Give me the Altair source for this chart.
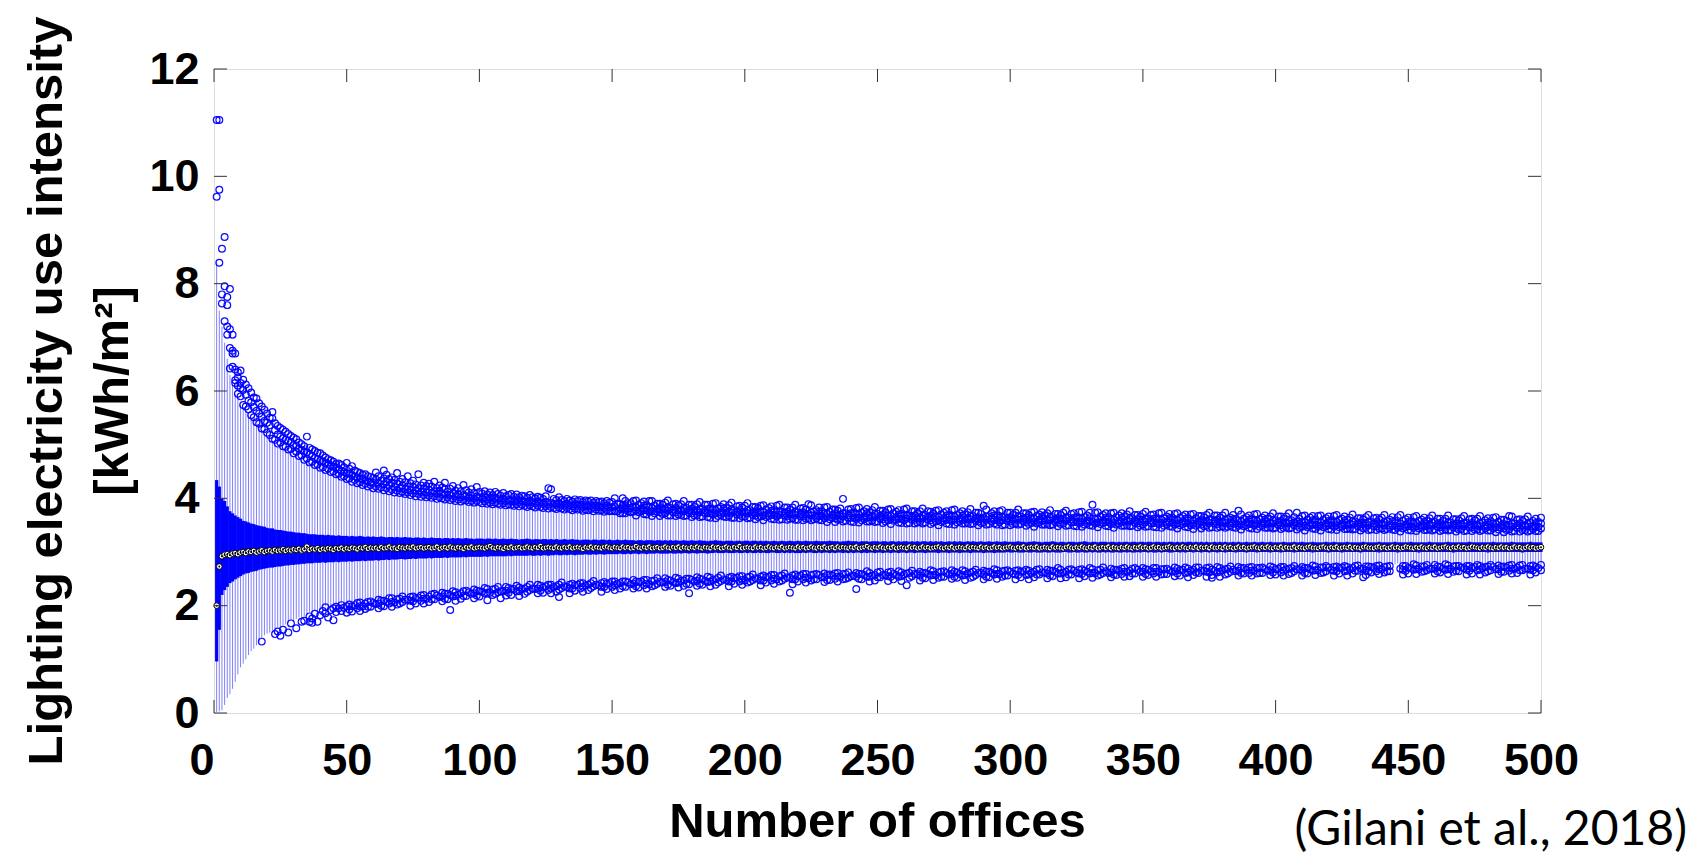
import altair as alt
import pandas as pd

# Box index (number of offices in the sample)
OFFICES = list(range(1, 501))

MEDIAN = [
    2.00,2.73,2.92,2.95,2.96,2.94,2.97,2.98,2.96,2.99,
    3.00,2.98,3.01,3.00,3.02,2.99,3.01,3.03,3.00,3.02,
    3.03,3.01,3.04,3.02,3.03,3.05,3.02,3.04,3.03,3.05,
    3.04,3.06,3.03,3.05,3.10,3.04,3.06,3.05,3.07,3.04,
    3.06,3.05,3.07,3.06,3.04,3.07,3.06,3.08,3.05,3.07,
    3.06,3.08,3.07,3.05,3.08,3.07,3.09,3.06,3.08,3.07,
    3.08,3.06,3.09,3.07,3.08,3.10,3.07,3.08,3.06,3.09,
    3.08,3.07,3.09,3.08,3.10,3.07,3.08,3.09,3.07,3.08,
    3.09,3.07,3.08,3.10,3.06,3.08,3.09,3.07,3.10,3.08,
    3.07,3.09,3.08,3.06,3.09,3.08,3.10,3.07,3.08,3.09,
    3.08,3.07,3.09,3.11,3.08,3.07,3.09,3.08,3.06,3.09,
    3.08,3.10,3.07,3.08,3.09,3.07,3.08,3.10,3.08,3.07,
    3.09,3.08,3.11,3.07,3.08,3.09,3.08,3.07,3.10,3.08,
    3.07,3.09,3.08,3.10,3.07,3.08,3.09,3.08,3.06,3.09,
    3.08,3.10,3.07,3.09,3.08,3.07,3.09,3.10,3.08,3.07,
    3.09,3.08,3.07,3.10,3.08,3.09,3.07,3.08,3.11,3.08,
    3.07,3.09,3.08,3.10,3.07,3.08,3.09,3.07,3.08,3.10,
    3.08,3.07,3.09,3.08,3.10,3.07,3.09,3.08,3.07,3.09,
    3.08,3.10,3.08,3.07,3.09,3.08,3.07,3.10,3.08,3.09,
    3.07,3.08,3.10,3.08,3.07,3.09,3.08,3.11,3.07,3.08,
    3.09,3.08,3.07,3.10,3.08,3.09,3.07,3.08,3.10,3.08,
    3.07,3.09,3.08,3.10,3.07,3.08,3.09,3.08,3.07,3.10,
    3.08,3.09,3.07,3.08,3.10,3.08,3.07,3.09,3.08,3.10,
    3.07,3.08,3.09,3.07,3.10,3.08,3.09,3.08,3.07,3.09,
    3.08,3.10,3.07,3.08,3.09,3.11,3.08,3.07,3.09,3.08,
    3.10,3.08,3.07,3.09,3.08,3.10,3.07,3.08,3.09,3.08,
    3.07,3.10,3.08,3.09,3.07,3.08,3.10,3.08,3.09,3.07,
    3.08,3.09,3.10,3.08,3.07,3.09,3.08,3.10,3.07,3.08,
    3.09,3.08,3.07,3.10,3.08,3.09,3.08,3.07,3.10,3.08,
    3.09,3.07,3.08,3.10,3.08,3.09,3.07,3.08,3.09,3.10,
    3.08,3.07,3.09,3.08,3.10,3.07,3.08,3.09,3.08,3.10,
    3.07,3.08,3.09,3.08,3.07,3.10,3.08,3.09,3.08,3.07,
    3.09,3.10,3.08,3.07,3.09,3.08,3.10,3.08,3.07,3.09,
    3.08,3.10,3.07,3.08,3.09,3.08,3.10,3.07,3.09,3.08,
    3.07,3.09,3.08,3.10,3.08,3.07,3.09,3.08,3.10,3.08,
    3.09,3.07,3.08,3.10,3.08,3.09,3.07,3.08,3.09,3.10,
    3.08,3.07,3.09,3.08,3.10,3.08,3.07,3.09,3.08,3.10,
    3.07,3.09,3.08,3.09,3.07,3.10,3.08,3.08,3.09,3.07,
    3.10,3.08,3.09,3.07,3.08,3.10,3.08,3.09,3.07,3.08,
    3.09,3.10,3.08,3.07,3.09,3.08,3.10,3.08,3.07,3.09,
    3.08,3.10,3.07,3.09,3.08,3.08,3.10,3.07,3.09,3.08,
    3.07,3.09,3.10,3.08,3.08,3.07,3.09,3.10,3.08,3.07,
    3.09,3.08,3.10,3.07,3.08,3.09,3.08,3.10,3.07,3.09,
    3.08,3.07,3.09,3.10,3.08,3.08,3.07,3.09,3.10,3.08,
    3.09,3.07,3.08,3.10,3.08,3.09,3.07,3.08,3.10,3.09,
    3.08,3.07,3.09,3.08,3.10,3.08,3.07,3.09,3.08,3.10,
    3.07,3.08,3.09,3.10,3.08,3.07,3.09,3.08,3.10,3.08,
    3.09,3.07,3.08,3.10,3.09,3.08,3.07,3.09,3.08,3.10,
    3.08,3.07,3.09,3.08,3.10,3.08,3.09,3.07,3.08,3.10,
    3.08,3.09,3.07,3.08,3.10,3.08,3.09,3.07,3.08,3.09,
]

Q1 = [
    0.96,1.55,2.20,2.29,2.35,2.42,2.45,2.49,2.52,2.55,
    2.58,2.60,2.61,2.63,2.64,2.65,2.67,2.68,2.69,2.70,
    2.71,2.71,2.72,2.73,2.73,2.74,2.75,2.75,2.76,2.76,
    2.77,2.77,2.78,2.78,2.79,2.79,2.79,2.80,2.80,2.80,
    2.81,2.80,2.81,2.81,2.81,2.82,2.81,2.82,2.82,2.82,
    2.83,2.82,2.83,2.83,2.83,2.84,2.83,2.84,2.84,2.84,
    2.85,2.84,2.85,2.85,2.86,2.85,2.86,2.86,2.86,2.87,
    2.87,2.86,2.87,2.87,2.88,2.87,2.88,2.88,2.88,2.88,
    2.89,2.88,2.89,2.89,2.89,2.89,2.90,2.89,2.90,2.90,
    2.90,2.90,2.90,2.91,2.90,2.91,2.91,2.91,2.91,2.91,
    2.91,2.92,2.91,2.92,2.92,2.92,2.92,2.92,2.92,2.92,
    2.93,2.92,2.93,2.93,2.93,2.93,2.93,2.93,2.94,2.93,
    2.93,2.94,2.93,2.94,2.94,2.93,2.94,2.94,2.95,2.94,
    2.94,2.95,2.94,2.95,2.95,2.94,2.95,2.95,2.95,2.96,
    2.95,2.95,2.96,2.95,2.96,2.96,2.95,2.96,2.96,2.96,
    2.96,2.96,2.97,2.96,2.96,2.97,2.96,2.97,2.97,2.96,
    2.97,2.97,2.96,2.97,2.97,2.97,2.98,2.97,2.97,2.97,
    2.97,2.98,2.97,2.97,2.98,2.97,2.98,2.98,2.97,2.98,
    2.98,2.97,2.98,2.98,2.98,2.97,2.98,2.98,2.99,2.98,
    2.98,2.98,2.99,2.98,2.98,2.98,2.99,2.98,2.98,2.99,
    2.98,2.99,2.98,2.98,2.99,2.98,2.99,2.98,2.98,2.99,
    2.99,2.98,2.98,2.99,2.98,2.99,2.98,2.99,2.98,2.98,
    2.98,2.99,2.98,2.99,2.99,2.98,2.98,2.99,2.98,2.99,
    2.99,2.98,2.99,2.98,2.99,2.99,2.98,2.99,2.98,2.99,
    2.98,2.99,2.99,2.98,2.99,2.98,2.99,2.99,2.98,2.99,
    2.99,2.98,2.99,2.99,2.98,2.99,2.99,2.98,2.99,2.99,
    2.98,2.99,2.99,2.98,2.99,2.99,2.99,2.98,2.99,2.99,
    2.99,2.99,2.98,2.99,2.99,2.99,2.98,2.99,2.99,2.99,
    2.98,2.99,2.99,2.99,2.98,2.99,2.99,2.99,2.99,2.98,
    2.99,2.99,2.99,2.98,2.99,2.99,2.99,2.99,3.00,2.99,
    2.99,3.00,2.99,2.99,2.99,3.00,2.99,2.99,3.00,2.99,
    2.99,2.99,3.00,2.99,2.99,3.00,2.99,2.99,2.99,3.00,
    3.00,2.99,2.99,3.00,2.99,2.99,3.00,2.99,2.99,3.00,
    2.99,3.00,2.99,2.99,3.00,2.99,3.00,2.99,2.99,3.00,
    2.99,2.99,3.00,2.99,3.00,2.99,2.99,3.00,2.99,3.00,
    3.00,2.99,3.00,2.99,2.99,3.00,2.99,3.00,3.00,2.99,
    2.99,3.00,3.00,2.99,3.00,2.99,3.00,3.00,2.99,3.00,
    3.00,2.99,3.00,3.00,2.99,3.00,3.00,2.99,3.00,3.00,
    2.99,3.00,3.00,3.00,2.99,3.00,3.00,3.00,2.99,3.00,
    3.00,3.00,2.99,3.00,3.00,3.00,3.00,2.99,3.00,3.00,
    3.00,2.99,3.00,3.00,3.00,3.00,2.99,3.00,3.00,3.00,
    3.00,3.00,3.00,2.99,3.00,3.00,3.00,3.00,3.00,2.99,
    3.00,3.00,3.00,3.00,2.99,3.00,3.00,3.00,3.00,3.00,
    3.00,2.99,3.00,3.00,3.00,3.00,3.00,3.00,2.99,3.00,
    3.00,3.00,3.00,3.00,3.00,2.99,3.00,3.00,3.00,3.00,
    3.00,3.00,3.00,2.99,3.00,3.00,3.00,3.00,3.00,3.00,
    3.00,3.00,3.00,3.00,3.00,3.00,2.99,3.00,3.00,3.00,
    3.00,3.00,3.00,3.00,3.00,3.00,3.00,3.00,3.00,2.99,
    3.00,3.00,3.00,3.00,3.00,3.00,3.00,3.00,3.00,3.00,
    3.00,3.00,2.99,3.00,3.00,3.00,3.00,3.00,3.00,3.00,
]

Q3 = [
    4.34,4.22,4.00,3.95,3.85,3.76,3.72,3.68,3.65,3.62,
    3.58,3.57,3.55,3.53,3.52,3.50,3.49,3.48,3.47,3.45,
    3.44,3.44,3.42,3.41,3.41,3.40,3.39,3.38,3.38,3.37,
    3.36,3.36,3.35,3.35,3.34,3.33,3.33,3.33,3.32,3.32,
    3.32,3.31,3.32,3.31,3.31,3.30,3.31,3.30,3.30,3.30,
    3.29,3.30,3.29,3.29,3.30,3.29,3.28,3.29,3.28,3.29,
    3.28,3.28,3.29,3.28,3.27,3.28,3.28,3.27,3.28,3.27,
    3.27,3.28,3.27,3.27,3.26,3.27,3.27,3.26,3.27,3.26,
    3.26,3.27,3.26,3.26,3.26,3.25,3.26,3.26,3.25,3.26,
    3.25,3.26,3.25,3.25,3.26,3.25,3.25,3.24,3.25,3.25,
    3.25,3.24,3.25,3.25,3.24,3.25,3.24,3.24,3.25,3.24,
    3.24,3.25,3.24,3.24,3.23,3.24,3.24,3.25,3.24,3.23,
    3.24,3.24,3.23,3.24,3.24,3.23,3.24,3.23,3.24,3.23,
    3.23,3.24,3.23,3.23,3.24,3.23,3.23,3.22,3.23,3.23,
    3.23,3.22,3.23,3.23,3.22,3.23,3.23,3.22,3.23,3.22,
    3.22,3.23,3.22,3.22,3.23,3.22,3.22,3.22,3.21,3.22,
    3.22,3.21,3.22,3.22,3.22,3.21,3.22,3.22,3.21,3.22,
    3.21,3.22,3.21,3.22,3.21,3.21,3.22,3.21,3.21,3.22,
    3.21,3.21,3.22,3.21,3.21,3.20,3.21,3.21,3.22,3.21,
    3.21,3.20,3.21,3.21,3.21,3.20,3.21,3.21,3.20,3.21,
    3.21,3.20,3.21,3.21,3.20,3.21,3.20,3.21,3.20,3.20,
    3.21,3.20,3.20,3.21,3.20,3.20,3.21,3.20,3.20,3.21,
    3.20,3.20,3.21,3.20,3.20,3.20,3.21,3.20,3.20,3.20,
    3.20,3.21,3.20,3.20,3.20,3.19,3.20,3.20,3.21,3.20,
    3.20,3.20,3.19,3.20,3.20,3.20,3.19,3.20,3.20,3.20,
    3.19,3.20,3.20,3.19,3.20,3.20,3.19,3.20,3.19,3.20,
    3.20,3.19,3.20,3.19,3.20,3.19,3.20,3.20,3.19,3.20,
    3.19,3.20,3.19,3.20,3.19,3.19,3.20,3.19,3.20,3.19,
    3.20,3.19,3.19,3.20,3.19,3.20,3.19,3.19,3.20,3.19,
    3.19,3.20,3.19,3.19,3.20,3.19,3.19,3.20,3.19,3.19,
    3.19,3.19,3.20,3.19,3.19,3.18,3.19,3.19,3.20,3.19,
    3.19,3.18,3.19,3.19,3.19,3.20,3.19,3.18,3.19,3.19,
    3.18,3.19,3.19,3.19,3.18,3.19,3.19,3.20,3.19,3.18,
    3.19,3.19,3.18,3.19,3.19,3.19,3.18,3.19,3.19,3.18,
    3.19,3.18,3.19,3.19,3.18,3.19,3.19,3.18,3.19,3.19,
    3.18,3.19,3.19,3.18,3.19,3.19,3.18,3.19,3.18,3.19,
    3.19,3.18,3.19,3.18,3.19,3.18,3.19,3.19,3.18,3.19,
    3.18,3.19,3.18,3.19,3.18,3.18,3.19,3.18,3.19,3.18,
    3.19,3.18,3.18,3.19,3.18,3.19,3.18,3.18,3.19,3.18,
    3.18,3.19,3.18,3.18,3.19,3.18,3.18,3.19,3.18,3.18,
    3.18,3.18,3.19,3.18,3.18,3.18,3.19,3.18,3.18,3.19,
    3.18,3.18,3.18,3.19,3.18,3.18,3.18,3.18,3.19,3.18,
    3.18,3.19,3.18,3.18,3.18,3.18,3.19,3.18,3.18,3.18,
    3.18,3.18,3.19,3.18,3.18,3.18,3.18,3.18,3.19,3.18,
    3.18,3.18,3.18,3.18,3.19,3.18,3.18,3.18,3.18,3.18,
    3.19,3.18,3.18,3.18,3.18,3.18,3.18,3.19,3.18,3.18,
    3.18,3.18,3.18,3.18,3.19,3.18,3.18,3.18,3.18,3.18,
    3.18,3.18,3.19,3.18,3.18,3.18,3.18,3.18,3.18,3.18,
    3.18,3.19,3.18,3.18,3.18,3.18,3.18,3.18,3.19,3.18,
    3.18,3.18,3.18,3.18,3.18,3.19,3.18,3.18,3.18,3.18,
]

WHISKER_LO = [
    0.02,0.03,0.05,0.15,0.28,0.35,0.45,0.58,0.72,0.85,
    0.92,1.00,1.08,1.15,1.20,1.26,1.32,1.40,1.45,1.48,
    1.50,1.53,1.55,1.60,1.58,1.63,1.65,1.68,1.72,1.70,
    1.75,1.78,1.76,1.80,1.83,1.88,1.86,1.90,1.88,1.92,
    1.94,1.99,1.96,1.98,2.00,2.02,2.00,2.04,2.03,2.05,
    2.06,2.05,2.08,2.07,2.09,2.08,2.10,2.11,2.10,2.12,
    2.12,2.14,2.13,2.15,2.14,2.16,2.17,2.15,2.18,2.17,
    2.19,2.18,2.20,2.19,2.21,2.20,2.22,2.21,2.23,2.22,
    2.23,2.25,2.24,2.26,2.25,2.27,2.26,2.28,2.27,2.29,
    2.28,2.30,2.29,2.31,2.30,2.32,2.31,2.33,2.32,2.33,
    2.33,2.35,2.34,2.33,2.36,2.35,2.37,2.34,2.36,2.38,
    2.37,2.36,2.38,2.39,2.37,2.40,2.38,2.39,2.41,2.39,
    2.40,2.42,2.41,2.40,2.43,2.41,2.42,2.44,2.42,2.43,
    2.45,2.43,2.44,2.42,2.45,2.44,2.46,2.44,2.45,2.47,
    2.45,2.46,2.48,2.46,2.47,2.45,2.48,2.47,2.49,2.47,
    2.48,2.50,2.48,2.49,2.47,2.50,2.49,2.51,2.49,2.50,
    2.52,2.50,2.51,2.49,2.52,2.51,2.53,2.51,2.52,2.54,
    2.52,2.53,2.51,2.54,2.53,2.55,2.53,2.54,2.52,2.55,
    2.54,2.56,2.54,2.55,2.53,2.56,2.55,2.57,2.55,2.56,
    2.58,2.56,2.57,2.55,2.58,2.57,2.59,2.57,2.58,2.56,
    2.59,2.58,2.60,2.58,2.59,2.57,2.60,2.59,2.61,2.59,
    2.60,2.58,2.61,2.60,2.62,2.60,2.61,2.59,2.62,2.61,
    2.63,2.61,2.62,2.60,2.63,2.62,2.61,2.64,2.62,2.63,
    2.61,2.64,2.63,2.62,2.64,2.63,2.65,2.63,2.64,2.62,
    2.65,2.64,2.63,2.65,2.64,2.66,2.64,2.65,2.63,2.66,
    2.65,2.64,2.66,2.65,2.67,2.65,2.64,2.66,2.65,2.67,
    2.66,2.65,2.67,2.66,2.68,2.66,2.65,2.67,2.66,2.68,
    2.67,2.66,2.68,2.67,2.66,2.68,2.67,2.69,2.67,2.68,
    2.66,2.68,2.67,2.69,2.68,2.67,2.69,2.68,2.70,2.68,
    2.67,2.69,2.68,2.70,2.69,2.68,2.70,2.69,2.68,2.70,
    2.69,2.68,2.70,2.69,2.71,2.69,2.68,2.70,2.69,2.71,
    2.70,2.69,2.71,2.70,2.69,2.71,2.70,2.72,2.70,2.71,
    2.69,2.71,2.70,2.72,2.71,2.70,2.72,2.71,2.70,2.72,
    2.71,2.70,2.72,2.71,2.73,2.71,2.70,2.72,2.71,2.73,
    2.72,2.71,2.73,2.72,2.71,2.73,2.72,2.74,2.72,2.73,
    2.72,2.73,2.71,2.72,2.73,2.72,2.74,2.72,2.71,2.73,
    2.72,2.74,2.73,2.72,2.74,2.73,2.72,2.74,2.73,2.75,
    2.73,2.72,2.74,2.73,2.75,2.73,2.72,2.74,2.73,2.75,
    2.74,2.73,2.75,2.74,2.73,2.75,2.74,2.76,2.74,2.73,
    2.75,2.74,2.76,2.74,2.73,2.75,2.74,2.76,2.75,2.74,
    2.76,2.74,2.75,2.77,2.75,2.74,2.76,2.75,2.77,2.75,
    2.74,2.76,2.75,2.77,2.76,2.75,2.77,2.75,2.76,2.78,
    2.76,2.75,2.77,2.76,2.78,2.76,2.75,2.77,2.76,2.78,
    2.77,2.76,2.78,2.76,2.77,2.78,2.77,2.76,2.78,2.77,
    2.78,2.77,2.76,2.78,2.77,2.79,2.78,2.77,2.78,2.76,
    2.77,2.79,2.78,2.77,2.79,2.77,2.78,2.76,2.78,2.79,
    2.77,2.78,2.76,2.79,2.78,2.77,2.79,2.78,2.76,2.78,
    2.79,2.77,2.78,2.76,2.79,2.78,2.77,2.79,2.78,2.77,
    2.78,2.79,2.77,2.78,2.76,2.79,2.78,2.77,2.79,2.78,
    2.77,2.79,2.78,2.76,2.78,2.77,2.79,2.78,2.77,2.78,
]

WHISKER_HI = [
    8.40,7.50,7.20,6.90,6.60,6.30,6.10,5.95,5.85,5.75,
    5.68,5.62,5.57,5.46,5.44,5.35,5.31,5.24,5.21,5.13,
    5.12,5.04,5.03,4.96,4.97,4.90,4.90,4.84,4.85,4.78,
    4.80,4.72,4.73,4.66,4.67,4.60,4.62,4.55,4.57,4.50,
    4.52,4.46,4.48,4.42,4.44,4.38,4.39,4.33,4.35,4.29,
    4.30,4.25,4.28,4.22,4.24,4.19,4.21,4.16,4.19,4.13,
    4.16,4.11,4.15,4.09,4.12,4.08,4.10,4.05,4.07,4.04,
    4.06,4.01,4.04,4.00,4.03,3.98,4.02,3.97,4.00,3.96,
    3.99,3.95,3.97,3.93,3.96,3.94,3.92,3.95,3.91,3.93,
    3.89,3.92,3.88,3.91,3.90,3.87,3.89,3.86,3.89,3.87,
    3.85,3.88,3.84,3.86,3.83,3.86,3.84,3.82,3.85,3.81,
    3.83,3.82,3.80,3.83,3.79,3.82,3.80,3.78,3.81,3.79,
    3.77,3.80,3.78,3.76,3.79,3.75,3.78,3.76,3.74,3.77,
    3.75,3.73,3.76,3.74,3.72,3.75,3.73,3.74,3.71,3.73,
    3.72,3.74,3.70,3.73,3.71,3.72,3.69,3.72,3.70,3.71,
    3.69,3.71,3.68,3.70,3.69,3.67,3.70,3.68,3.66,3.69,
    3.67,3.68,3.66,3.68,3.65,3.67,3.66,3.64,3.67,3.65,
    3.66,3.63,3.65,3.64,3.66,3.62,3.65,3.63,3.64,3.62,
    3.64,3.62,3.63,3.61,3.64,3.62,3.60,3.63,3.61,3.62,
    3.60,3.63,3.61,3.60,3.62,3.59,3.61,3.60,3.62,3.59,
    3.61,3.59,3.60,3.58,3.61,3.59,3.57,3.60,3.58,3.59,
    3.57,3.59,3.58,3.56,3.59,3.57,3.58,3.56,3.58,3.55,
    3.57,3.56,3.58,3.55,3.57,3.56,3.54,3.57,3.55,3.56,
    3.54,3.56,3.55,3.53,3.56,3.54,3.55,3.53,3.55,3.54,
    3.52,3.55,3.53,3.54,3.52,3.54,3.53,3.51,3.54,3.52,
    3.53,3.51,3.53,3.52,3.50,3.53,3.51,3.52,3.50,3.52,
    3.51,3.49,3.52,3.50,3.51,3.49,3.51,3.50,3.52,3.49,
    3.51,3.50,3.48,3.51,3.49,3.50,3.48,3.51,3.49,3.50,
    3.48,3.50,3.49,3.47,3.50,3.48,3.49,3.47,3.50,3.48,
    3.49,3.47,3.48,3.50,3.47,3.49,3.48,3.46,3.49,3.47,
    3.48,3.46,3.49,3.47,3.48,3.46,3.48,3.47,3.45,3.48,
    3.46,3.48,3.47,3.45,3.48,3.46,3.47,3.45,3.48,3.46,
    3.47,3.45,3.47,3.46,3.44,3.47,3.45,3.46,3.44,3.47,
    3.45,3.46,3.44,3.47,3.45,3.46,3.44,3.45,3.43,3.46,
    3.44,3.46,3.45,3.43,3.46,3.44,3.45,3.43,3.45,3.44,
    3.45,3.43,3.45,3.44,3.42,3.45,3.43,3.44,3.42,3.45,
    3.43,3.44,3.42,3.45,3.43,3.44,3.42,3.43,3.41,3.44,
    3.43,3.41,3.44,3.42,3.43,3.41,3.44,3.42,3.43,3.41,
    3.43,3.42,3.40,3.43,3.41,3.42,3.40,3.43,3.41,3.42,
    3.40,3.43,3.41,3.42,3.40,3.42,3.41,3.39,3.42,3.40,
    3.42,3.40,3.41,3.39,3.42,3.40,3.41,3.39,3.41,3.40,
    3.38,3.41,3.40,3.41,3.39,3.40,3.38,3.41,3.39,3.40,
    3.38,3.40,3.39,3.41,3.38,3.40,3.39,3.37,3.40,3.38,
    3.39,3.37,3.40,3.38,3.39,3.37,3.39,3.38,3.40,3.37,
    3.39,3.38,3.36,3.39,3.37,3.38,3.36,3.39,3.37,3.38,
    3.36,3.38,3.37,3.39,3.36,3.38,3.37,3.36,3.38,3.37,
    3.38,3.36,3.37,3.35,3.38,3.36,3.37,3.35,3.38,3.36,
    3.37,3.35,3.37,3.36,3.38,3.35,3.37,3.36,3.35,3.37,
    3.36,3.37,3.35,3.37,3.36,3.34,3.37,3.35,3.36,3.34,
    3.36,3.35,3.37,3.34,3.36,3.35,3.34,3.36,3.35,3.37,
]

OUTLIERS_HI = [
    [9.62,11.05],[11.05,9.75,8.39],[8.65,7.63,7.80],[8.87,7.95,7.30],[7.75,7.20,7.05,7.60],[7.15,6.80,6.42,7.90],[6.75,7.05,6.45,6.70],[6.20,6.70,6.15,6.40],[6.10,6.35,5.95,6.25],[6.05,5.90,6.38,6.15],
    [5.74,6.02,6.21],[5.71,5.93,6.12],[5.66,5.82,6.05],[5.55,5.79,5.97],[5.51,5.70,5.88],[5.42,5.86,5.63],[5.39,5.58,5.77],[5.30,5.52,5.71],[5.29,5.44,5.65],[5.22,5.41,5.58],
    [5.18,5.36,5.50],[5.11,5.49,5.61],[5.09,5.27,5.40],[5.02,5.19,5.35],[5.04,5.15,5.31],[4.97,5.12,5.28],[4.96,5.09,5.24],[4.91,5.07,5.20],[4.92,5.05,5.16],[4.84,4.99,5.13],
    [4.87,4.98,5.10],[4.79,4.93,5.04],[4.80,4.90,5.01],[4.72,4.87,4.97],[4.74,4.86,5.15],[4.67,4.82,4.94],[4.68,4.79,4.91],[4.62,4.75,4.88],[4.63,4.73,4.85],[4.57,4.84,4.70],
    [4.58,4.69,4.80],[4.53,4.66,4.76],[4.55,4.64,4.73],[4.49,4.61,4.71],[4.50,4.59,4.68],[4.45,4.57,4.64],[4.46,4.54,4.65],[4.40,4.51,4.62],[4.41,4.49,4.58],[4.36,4.47,4.66],
    [4.37,4.46,4.55],[4.31,4.43,4.60],[4.34,4.41,4.52],[4.28,4.39,4.49],[4.30,4.37,4.47],[4.25,4.36,4.44],[4.27,4.33,4.45],[4.22,4.32,4.41],[4.25,4.30,4.40],[4.19,4.29,4.38],
    [4.22,4.35,4.48],[4.18,4.27,4.41],[4.20,4.33],[4.15,4.26,4.37,4.52],[4.19,4.31,4.44],[4.13,4.24,4.36],[4.16,4.29,4.39],[4.11,4.21,4.34],[4.14,4.27,4.47],[4.10,4.19,4.31],
    [4.12,4.24,4.36],[4.08,4.17,4.30],[4.11,4.22,4.41],[4.06,4.15,4.28],[4.09,4.21,4.33],[4.04,4.14,4.26],[4.08,4.19,4.45],[4.03,4.12,4.24],[4.06,4.18,4.29],[4.02,4.11,4.23],
    [4.05,4.16,4.27],[4.01,4.10,4.22],[4.04,4.13,4.31],[3.99,4.09,4.19],[4.02,4.14,4.24],[4.00,4.08,4.20],[3.98,4.07,4.17,4.29],[4.01,4.12],[3.97,4.06,4.18],[3.99,4.09,4.23],
    [3.95,4.04,4.14],[3.98,4.07,4.19],[3.94,4.02,4.13],[3.97,4.06,4.25],[3.96,4.04,4.15],[3.93,4.01,4.11],[3.95,4.05,4.17],[3.92,4.00,4.10],[3.95,4.03,4.21],[3.93,4.02,4.12],
    [3.91,3.99,4.09],[3.94,4.02,4.13],[3.90,3.98,4.07],[3.92,4.01,4.11],[3.89,3.97,4.06],[3.92,4.00,4.12],[3.90,3.99,4.08],[3.88,3.96,4.05],[3.91,3.99,4.10],[3.87,3.95,4.04],
    [3.89,3.97,4.06],[3.88,3.95,4.08],[3.86,3.94,4.03],[3.89,3.98,4.07],[3.85,3.93,4.02],[3.88,3.96,4.05],[3.86,3.94,4.04],[3.84,3.92,4.01],[3.87,3.95,4.06],[3.85,3.93,4.02],
    [3.83,3.91,4.00],[3.86,3.94,4.03],[3.84,3.92,4.01],[3.82,3.90,3.99],[3.85,3.93,4.04],[3.81,3.89,4.19],[3.84,3.92,4.17],[3.82,3.90,3.99],[3.80,3.88,3.97],[3.83,3.91,4.02],
    [3.81,3.88,3.97],[3.79,3.86,3.95],[3.82,3.90,3.99],[3.80,3.87,3.96],[3.78,3.85,3.94],[3.81,3.89,3.98],[3.79,3.86,3.95],[3.80,3.88,3.97],[3.77,3.84,3.93],[3.79,3.87,3.96],
    [3.78,3.85,3.94],[3.80,3.87,3.96],[3.76,3.83,3.92],[3.79,3.86,3.95],[3.77,3.84,3.93],[3.78,3.85,3.94],[3.75,3.82,3.91],[3.78,3.86,3.95],[3.76,3.83,3.92],[3.77,3.84,3.93],
    [3.76,3.85,4.00],[3.76,3.90],[3.72,3.80,3.89],[3.72,3.81,3.87,4.00],[3.72,3.79,3.87,3.95],[3.76,3.81,3.91],[3.74,3.82,3.91],[3.75,3.84,3.95],[3.68,3.77,3.83,3.96],[3.74,3.88],
    [3.76,3.81,3.91],[3.71,3.78,3.86,3.94],[3.70,3.78,3.87],[3.75,3.84,3.95],[3.67,3.76,3.82,3.95],[3.72,3.86],[3.75,3.80,3.90],[3.67,3.74,3.82,3.90],[3.71,3.79,3.88],[3.72,3.81,3.92],
    [3.68,3.77,3.83,3.96],[3.68,3.82],[3.74,3.79,3.89],[3.67,3.74,3.82,3.90],[3.70,3.78,3.87],[3.69,3.78,3.89],[3.67,3.76,3.82,3.95],[3.68,3.82],[3.73,3.78,3.88],[3.65,3.72,3.80,3.88],
    [3.68,3.76,3.85],[3.69,3.78,3.89],[3.65,3.74,3.80,3.93],[3.66,3.80],[3.73,3.78,3.88],[3.65,3.72,3.80,3.88],[3.64,3.72,3.81],[3.70,3.79,3.90],[3.63,3.72,3.78,3.91],[3.67,3.81],
    [3.69,3.74,3.84],[3.66,3.73,3.81,3.89],[3.65,3.73,3.82],[3.67,3.76,3.87],[3.64,3.73,3.79,3.92],[3.64,3.78],[3.70,3.75,3.85],[3.63,3.70,3.78,3.86],[3.66,3.74,3.83],[3.66,3.75,3.86],
    [3.63,3.72,3.78,3.91],[3.64,3.78],[3.69,3.74,3.84],[3.61,3.68,3.76,3.84],[3.65,3.73,3.82],[3.66,3.75,3.86],[3.59,3.68,3.74,3.87],[3.65,3.79],[3.67,3.72,3.82],[3.62,3.69,3.77,3.85],
    [3.61,3.69,3.78],[3.66,3.75,3.86],[3.60,3.69,3.75,3.88],[3.61,3.75],[3.68,3.73,3.83],[3.60,3.67,3.75,3.83],[3.62,3.70,3.79],[3.63,3.72,3.83],[3.60,3.69,3.75,3.88],[3.60,3.74],
    [3.66,3.71,3.81],[3.59,3.66,3.74,3.82],[3.62,3.70,3.79],[3.62,3.71,3.89],[3.59,3.68,3.74,3.87],[3.61,3.75],[3.63,3.68,3.78],[3.60,3.67,3.75,3.83],[3.59,3.67,3.76],[3.63,3.72,3.83],
    [3.56,3.65,3.71,3.84],[3.61,3.75],[3.64,3.69,3.79],[3.56,3.63,3.71,3.79],[3.60,3.68,3.77],[3.61,3.70,3.81],[3.57,3.66,3.72,3.99],[3.58,3.72],[3.64,3.69,3.79],[3.57,3.64,3.72,3.80],
    [3.56,3.64,3.73],[3.62,3.71,3.82],[3.55,3.64,3.70,3.83],[3.59,3.73],[3.61,3.66,3.76],[3.57,3.64,3.72,3.80],[3.57,3.65,3.74],[3.58,3.67,3.78],[3.56,3.65,3.71,3.84],[3.57,3.71],
    [3.62,3.67,3.77],[3.54,3.61,3.69,3.77],[3.57,3.65,3.74],[3.59,3.68,3.79],[3.52,3.61,3.67,3.80],[3.58,3.72],[3.60,3.65,3.75],[3.55,3.62,3.70,3.78],[3.54,3.62,3.71],[3.59,3.68,3.79],
    [3.53,3.62,3.68,3.81],[3.54,3.68],[3.61,3.66,3.76],[3.53,3.60,3.68,3.76],[3.55,3.63,3.72],[3.56,3.65,3.76],[3.53,3.62,3.68,3.81],[3.55,3.69],[3.61,3.66,3.76],[3.52,3.59,3.67,3.75],
    [3.55,3.63,3.72],[3.57,3.66,3.77],[3.50,3.59,3.65,3.78],[3.56,3.70],[3.58,3.63,3.73],[3.53,3.60,3.68,3.76],[3.52,3.60,3.69],[3.58,3.67,3.78],[3.51,3.60,3.66,3.79],[3.55,3.69],
    [3.57,3.62,3.72],[3.53,3.60,3.68,3.76],[3.53,3.61,3.70],[3.54,3.63,3.74],[3.52,3.61,3.67,3.80],[3.53,3.67],[3.58,3.63,3.73],[3.50,3.57,3.65,3.73],[3.54,3.62,3.71],[3.55,3.64,3.86],
    [3.51,3.60,3.66,3.79],[3.52,3.66],[3.57,3.62,3.72],[3.53,3.60,3.68,3.76],[3.51,3.59,3.68],[3.56,3.65,3.76],[3.50,3.59,3.65,3.78],[3.51,3.65],[3.58,3.63,3.73],[3.50,3.57,3.65,3.73],
    [3.52,3.60,3.69],[3.53,3.62,3.73],[3.51,3.60,3.66,3.79],[3.52,3.66],[3.57,3.62,3.72],[3.49,3.56,3.64,3.72],[3.52,3.60,3.69],[3.54,3.63,3.74],[3.47,3.56,3.62,3.75],[3.53,3.67],
    [3.55,3.60,3.70],[3.51,3.58,3.66,3.74],[3.51,3.59,3.68],[3.52,3.61,3.72],[3.50,3.59,3.65,3.78],[3.51,3.65],[3.56,3.61,3.71],[3.48,3.55,3.63,3.71],[3.52,3.60,3.69],[3.53,3.62,3.73],
    [3.49,3.58,3.64,3.77],[3.50,3.64],[3.56,3.61,3.71],[3.49,3.56,3.64,3.72],[3.48,3.56,3.65],[3.54,3.63,3.74],[3.47,3.56,3.62,3.75],[3.51,3.65],[3.53,3.58,3.68],[3.50,3.57,3.65,3.73],
    [3.49,3.57,3.88],[3.53,3.62,3.73],[3.46,3.55,3.61,3.74],[3.52,3.66],[3.54,3.59,3.69],[3.49,3.56,3.64,3.72],[3.48,3.56,3.65],[3.52,3.61,3.72],[3.45,3.54,3.60,3.73],[3.51,3.65],
    [3.53,3.58,3.68],[3.49,3.56,3.64,3.72],[3.49,3.57,3.66],[3.50,3.59,3.70],[3.48,3.57,3.63,3.76],[3.49,3.63],[3.54,3.59,3.69],[3.46,3.53,3.61,3.69],[3.49,3.57,3.66],[3.51,3.60,3.71],
    [3.47,3.56,3.62,3.75],[3.48,3.62],[3.54,3.59,3.69],[3.47,3.54,3.62,3.70],[3.46,3.54,3.63],[3.52,3.61,3.72],[3.45,3.54,3.60,3.73],[3.49,3.63],[3.51,3.56,3.66],[3.48,3.55,3.63,3.71],
    [3.47,3.55,3.64],[3.51,3.60,3.71],[3.44,3.53,3.59,3.72],[3.50,3.64],[3.52,3.57,3.67],[3.47,3.54,3.62,3.70],[3.46,3.54,3.63],[3.50,3.59,3.70],[3.43,3.52,3.58,3.71],[3.49,3.63],
    [3.52,3.57,3.67],[3.44,3.51,3.59,3.67],[3.48,3.56,3.65],[3.49,3.58,3.69],[3.45,3.54,3.60,3.73],[3.46,3.60],[3.53,3.58,3.68],[3.45,3.52,3.60,3.68],[3.47,3.55,3.64],[3.48,3.57,3.68],
    [3.45,3.54,3.60,3.73],[3.47,3.61],[3.49,3.54,3.64],[3.46,3.53,3.61,3.69],[3.45,3.53,3.62],[3.49,3.58,3.77],[3.42,3.51,3.57,3.70],[3.48,3.62],[3.50,3.55,3.65],[3.45,3.52,3.60,3.68],
    [3.44,3.52,3.61],[3.50,3.59,3.70],[3.43,3.52,3.58,3.71],[3.47,3.61],[3.49,3.54,3.64],[3.45,3.52,3.60,3.68],[3.45,3.53,3.62],[3.46,3.55,3.66],[3.44,3.53,3.59,3.72],[3.45,3.59],
    [3.51,3.56,3.66],[3.43,3.50,3.58,3.66],[3.45,3.53,3.62],[3.46,3.55,3.66],[3.44,3.53,3.59,3.72],[3.45,3.59],[3.50,3.55,3.65],[3.42,3.49,3.57,3.73],[3.45,3.53,3.62],[3.47,3.56,3.67],
    [3.40,3.49,3.55,3.68],[3.46,3.60],[3.49,3.54,3.64],[3.44,3.51,3.59,3.67],[3.43,3.51,3.60],[3.47,3.56,3.67],[3.40,3.49,3.55,3.68],[3.46,3.60],[3.48,3.53,3.63],[3.43,3.50,3.58,3.66],
    [3.42,3.50,3.59],[3.47,3.56,3.67],[3.41,3.50,3.56,3.69],[3.46,3.60],[3.47,3.52,3.62],[3.43,3.50,3.58,3.66],[3.43,3.51,3.60],[3.44,3.53,3.64],[3.42,3.51,3.57,3.70],[3.43,3.57],
    [3.48,3.53,3.63],[3.40,3.47,3.55,3.63],[3.44,3.52,3.61],[3.45,3.54,3.65],[3.41,3.50,3.56,3.69],[3.42,3.56],[3.48,3.53,3.63],[3.41,3.48,3.56,3.64],[3.44,3.52,3.61],[3.44,3.53,3.64],
    [3.41,3.50,3.56,3.69],[3.43,3.57],[3.45,3.50,3.60],[3.42,3.49,3.57,3.65],[3.41,3.49,3.58],[3.45,3.54,3.65],[3.38,3.47,3.53,3.69],[3.44,3.58],[3.46,3.51,3.61],[3.41,3.48,3.56,3.64],
    [3.40,3.48,3.57],[3.45,3.54,3.65],[3.39,3.48,3.54,3.67],[3.44,3.58],[3.45,3.50,3.60],[3.41,3.48,3.56,3.64],[3.41,3.49,3.58],[3.43,3.52,3.63],[3.40,3.49,3.55,3.68],[3.42,3.56],
    [3.47,3.52,3.62],[3.39,3.46,3.54,3.62],[3.41,3.49,3.58],[3.42,3.51,3.62],[3.40,3.49,3.55,3.68],[3.41,3.55],[3.46,3.51,3.61],[3.38,3.45,3.53,3.61],[3.42,3.50,3.59],[3.43,3.52,3.63],
    [3.39,3.48,3.54,3.67],[3.40,3.54],[3.46,3.51,3.61],[3.39,3.46,3.54,3.62],[3.42,3.50,3.59],[3.42,3.51,3.62],[3.39,3.48,3.54,3.67],[3.41,3.55],[3.44,3.49,3.59],[3.40,3.47,3.55,3.63],
    [3.40,3.48,3.57],[3.44,3.53,3.64],[3.37,3.46,3.52,3.65],[3.42,3.56],[3.45,3.50,3.60],[3.37,3.44,3.52,3.60],[3.41,3.49,3.58],[3.42,3.51,3.67],[3.38,3.47,3.53,3.66],[3.39,3.53],
    [3.45,3.50,3.60],[3.38,3.45,3.53,3.61],[3.41,3.49,3.58],[3.41,3.50,3.61],[3.38,3.47,3.53,3.66],[3.40,3.54],[3.43,3.48,3.58],[3.39,3.46,3.54,3.62],[3.39,3.47,3.56],[3.44,3.53,3.64],
]

OUTLIERS_LO = [
    [],[],[],[],[],[],[],[],[],[],
    [],[],[],[],[],[],[],[1.33],[],[],
    [],[],[1.47],[1.52],[1.44],[1.55],[],[1.50],[1.67],[],
    [1.58],[],[1.70],[1.72],[],[1.70,1.80],[1.76,1.68],[1.85],[1.70],[1.82],
    [1.90],[1.97,1.86],[1.78],[1.92],[1.73,1.95],[1.88,1.98],[1.95],[2.01,1.90],[1.96],[1.99,1.87],
    [2.02,1.93],[1.99,1.89],[2.01],[2.05,1.95],[2.06,1.99,1.90],[1.99],[2.04,1.94],[2.07,1.98],[2.08,1.98],[2.05],
    [2.03],[2.11,2.04,1.95],[2.09,2.00],[2.09,1.99],[2.07],[2.14,2.04],[2.14,2.07,1.98],[2.06],[2.12,2.02],[2.13,2.04],
    [2.17,2.07],[2.11],[2.11],[2.16,2.09,2.00],[2.17,2.08],[2.14,2.04],[2.15],[2.19,2.09],[2.20,2.13,2.04],[2.13],
    [2.17,2.07],[2.21,2.12],[2.22,2.12],[2.19],[2.16],[2.24,2.17,2.08],[2.22,2.13],[2.22,2.12],[2.20,1.92],[2.27,2.17],
    [2.25,2.18,2.09],[2.21],[2.23,2.13],[2.27,2.18],[2.28,2.18],[2.25],[2.22],[2.30,2.23,2.14],[2.28,2.19],[2.27,2.17],
    [2.26],[2.33,2.23],[2.31,2.24,2.10],[2.24],[2.30,2.20],[2.31,2.22],[2.35,2.25],[2.27,2.14],[2.27],[2.35,2.28,2.19],
    [2.33,2.24],[2.30,2.20],[2.31],[2.37,2.27],[2.34,2.27,2.18],[2.31],[2.32,2.22],[2.35,2.26],[2.39,2.29],[2.32],
    [2.31],[2.39,2.32,2.23],[2.37,2.28],[2.34,2.24],[2.36],[2.39,2.29],[2.39,2.32,2.23],[2.35],[2.36,2.26],[2.39,2.30,2.16],
    [2.43,2.33],[2.36],[2.35],[2.39,2.32,2.23],[2.41,2.32],[2.38,2.28],[2.39],[2.42,2.32],[2.42,2.35,2.26],[2.38],
    [2.39,2.29],[2.42,2.33],[2.46,2.36],[2.39],[2.38],[2.42,2.35,2.26],[2.44,2.35],[2.41,2.31],[2.42],[2.45,2.35],
    [2.45,2.38,2.29],[2.41],[2.42,2.32],[2.45,2.36],[2.45,2.35],[2.43],[2.40],[2.48,2.41,2.32],[2.45,2.36],[2.44,2.34],
    [2.45],[2.48,2.38],[2.48,2.41,2.32],[2.40],[2.46,2.36],[2.47,2.38],[2.51,2.41],[2.44],[2.43],[2.51,2.44,2.35],
    [2.48,2.39],[2.47,2.37],[2.44],[2.52,2.42],[2.50,2.43,2.34],[2.46],[2.47,2.37],[2.50,2.41],[2.50,2.40,2.23],[2.48],
    [2.45],[2.53,2.46,2.37],[2.50,2.41],[2.49,2.39],[2.46],[2.54,2.44],[2.52,2.45,2.36],[2.48],[2.49,2.39],[2.52,2.43],
    [2.56,2.46],[2.49],[2.48],[2.52,2.45,2.36],[2.54,2.45],[2.51,2.41],[2.52],[2.55,2.45],[2.55,2.48,2.39],[2.47],
    [2.53,2.43],[2.54,2.45],[2.58,2.48],[2.51],[2.50],[2.54,2.47,2.38],[2.56,2.47],[2.53,2.43],[2.54],[2.57,2.47],
    [2.57,2.50,2.41],[2.49],[2.55,2.45],[2.56,2.47],[2.60,2.50],[2.53],[2.52,2.24],[2.56,2.49,2.40],[2.58,2.49],[2.55,2.45],
    [2.56],[2.59,2.49],[2.59,2.52,2.43],[2.51],[2.57,2.47],[2.58,2.49],[2.59,2.49],[2.57],[2.53],[2.60,2.53,2.44],
    [2.57,2.48],[2.58,2.48],[2.56],[2.60,2.50],[2.61,2.54,2.45],[2.54],[2.59,2.49],[2.59,2.50],[2.62,2.52],[2.55],
    [2.56],[2.61,2.54,2.31],[2.59,2.50],[2.59,2.49],[2.57],[2.64,2.54],[2.61,2.54,2.45],[2.56],[2.57,2.47],[2.62,2.53],
    [2.63,2.53],[2.57],[2.57],[2.62,2.55,2.46],[2.63,2.54],[2.59,2.49],[2.57],[2.64,2.54],[2.62,2.55,2.46],[2.58],
    [2.60,2.38],[2.61,2.52],[2.65,2.55],[2.59],[2.59],[2.63,2.56,2.47],[2.61,2.52],[2.61,2.51],[2.59],[2.66,2.56],
    [2.64,2.57,2.48],[2.57],[2.62,2.52],[2.63,2.54],[2.64,2.54],[2.61],[2.58],[2.66,2.59,2.50],[2.63,2.54],[2.62,2.52],
    [2.59],[2.66,2.56],[2.64,2.57,2.48],[2.60],[2.62,2.52],[2.63,2.54],[2.67,2.57],[2.61],[2.61],[2.65,2.58,2.49],
    [2.63,2.54],[2.63,2.53],[2.61],[2.68,2.58],[2.66,2.59,2.50],[2.59],[2.64,2.54],[2.65,2.56],[2.66,2.56],[2.63],
    [2.60],[2.65,2.58,2.49],[2.66,2.57],[2.63,2.53],[2.64],[2.67,2.57],[2.65,2.58,2.49],[2.61],[2.63,2.53],[2.67,2.58],
    [2.68,2.58],[2.62],[2.62],[2.67,2.60,2.51],[2.65,2.56],[2.65,2.55],[2.63],[2.70,2.60],[2.67,2.60,2.51],[2.62],
    [2.63,2.53],[2.67,2.58],[2.68,2.58],[2.65],[2.62],[2.67,2.60,2.51],[2.68,2.59],[2.65,2.55],[2.63],[2.70,2.60],
    [2.68,2.61,2.52],[2.61],[2.66,2.56],[2.67,2.58],[2.71,2.61],[2.64],[2.61],[2.69,2.62,2.53],[2.67,2.58],[2.67,2.57],
    [2.65],[2.69,2.59],[2.70,2.63,2.54],[2.63],[2.65,2.55],[2.69,2.60],[2.70,2.60],[2.67],[2.63],[2.70,2.63,2.54],
    [2.68,2.59],[2.67,2.57],[2.64],[2.70,2.60],[2.70,2.63,2.54],[2.63],[2.68,2.58],[2.68,2.59],[2.69,2.59],[2.66],
    [2.63],[2.71,2.64,2.55],[2.69,2.60],[2.66,2.56],[2.67],[2.71,2.61],[2.69,2.62,2.53],[2.65],[2.67,2.57],[2.71,2.62],
    [2.71,2.61],[2.65],[2.65],[2.70,2.63,2.54],[2.71,2.62],[2.67,2.57,2.52],[2.65],[2.72,2.62],[2.70,2.63,2.54],[2.66],
    [2.68,2.58],[2.69,2.60],[2.73,2.63],[2.67],[2.64],[2.72,2.65,2.56],[2.70,2.61],[2.70,2.60],[2.67],[2.71,2.61],
    [2.72,2.65,2.56],[2.65],[2.70,2.60],[2.70,2.61],[2.71,2.61],[2.68],[2.65],[2.73,2.66,2.57],[2.71,2.62],[2.68,2.58],
    [2.69],[2.72,2.62],[2.72,2.65,2.56],[2.68],[2.69,2.59],[2.70,2.61],[2.74,2.64],[2.68],[2.68],[2.72,2.65,2.56],
    [2.70,2.61],[2.70,2.60],[2.68],[2.75,2.65],[2.73,2.66,2.57],[2.66],[2.71,2.61],[2.71,2.62],[2.74,2.64],[2.71],
    [2.67],[2.72,2.65,2.56],[2.73,2.64],[2.70,2.60],[2.71],[2.74,2.64],[2.72,2.65,2.56],[2.68],[2.70,2.60],[2.74,2.65],
    [2.75,2.65],[2.69],[2.69,2.53],[2.73,2.66,2.57],[2.73,2.64],[2.72,2.62],[2.70],[2.74,2.64],[2.75,2.68,2.59],[2.68],
    [2.72,2.62],[2.73,2.64],[2.74,2.64],[],[],[],[2.69],[2.74,2.67,2.58],[2.74,2.65],[2.70,2.60],
    [2.70],[2.77,2.67],[2.75,2.68,2.59],[2.68],[2.73,2.63],[2.73,2.64],[2.76,2.66],[2.69],[2.69],[2.76,2.69,2.60],
    [2.73,2.64],[2.72,2.62],[2.69],[2.77,2.67],[2.75,2.68,2.59],[2.68],[2.73,2.63],[2.74,2.65],[2.74,2.64],[2.71],
    [2.70],[2.74,2.67,2.58],[2.74,2.65],[2.70,2.60],[2.72],[2.76,2.66],[2.74,2.67,2.58],[2.70],[2.72,2.62],[2.73,2.64],
    [2.76,2.66],[2.72],[2.68],[2.75,2.68,2.59],[2.72,2.63],[2.73,2.63],[2.71],[2.75,2.65],[2.76,2.69,2.60],[2.69],
    [2.71,2.61],[2.75,2.66],[2.76,2.66],[2.69],[2.69],[2.74,2.67,2.58],[2.75,2.66],[2.72,2.62],[2.70],[2.76,2.66],
]

X_TICKS = [0, 50, 100, 150, 200, 250, 300, 350, 400, 450, 500]
Y_TICKS = [0, 2, 4, 6, 8, 10, 12]

# ---------------------------------------------------------------- tables
boxes = pd.DataFrame({
    "n": OFFICES, "med": MEDIAN, "q1": Q1, "q3": Q3,
    "lo": WHISKER_LO, "hi": WHISKER_HI,
})
out_rows = []
for n, vals in zip(OFFICES, OUTLIERS_HI):
    for v in vals:
        out_rows.append({"n": n, "v": v})
for n, vals in zip(OFFICES, OUTLIERS_LO):
    for v in vals:
        out_rows.append({"n": n, "v": v})
outliers = pd.DataFrame(out_rows)

W, H = 1327, 644
FONT = "Liberation Sans"
BLUE = "#0000ff"

xs = alt.Scale(domain=[0, 500], nice=False, zero=False)
ys = alt.Scale(domain=[0, 12], nice=False, zero=False)

x_axis = alt.Axis(values=X_TICKS, title=None, grid=False, domain=False, ticks=False,
                  labelFont=FONT, labelFontSize=45, labelFontWeight="bold",
                  labelColor="black", labelPadding=25, labelFlush=False,
                  labelOverlap=False, format="d",
                  labelAlign={"condition": {"test": "datum.value === 0", "value": "right"},
                              "value": "center"})
y_axis = alt.Axis(values=Y_TICKS, title=None, grid=False, domain=False, ticks=False,
                  labelFont=FONT, labelFontSize=45, labelFontWeight="bold",
                  labelColor="black", labelPadding=15, labelOverlap=False, format="d")

X = alt.X("n:Q", scale=xs, axis=x_axis)

whiskers = alt.Chart(boxes).mark_rule(color=BLUE, strokeWidth=1, opacity=0.5).encode(
    x=X, y=alt.Y("lo:Q", scale=ys, axis=y_axis), y2="hi:Q")

box_marks = alt.Chart(boxes).mark_rule(color=BLUE, strokeWidth=3.2).encode(
    x=X, y=alt.Y("q1:Q", scale=ys, axis=y_axis), y2="q3:Q")

outlier_marks = alt.Chart(outliers).mark_point(
    shape="circle", filled=False, color=BLUE, size=46, strokeWidth=1.2, opacity=0.95
).encode(x=X, y=alt.Y("v:Q", scale=ys, axis=y_axis))

median_ring = alt.Chart(boxes).mark_point(
    shape="circle", filled=True, fill="white", stroke="#000000", strokeWidth=1,
    size=32, opacity=1
).encode(x=X, y=alt.Y("med:Q", scale=ys, axis=y_axis))

median_dot = alt.Chart(boxes).mark_point(
    shape="circle", filled=True, color="black", size=4, opacity=1
).encode(x=X, y=alt.Y("med:Q", scale=ys, axis=y_axis))

# inward ticks on all four sides
xt = pd.DataFrame({"n": X_TICKS})
yt = pd.DataFrame({"v": Y_TICKS})
TICK = "#333333"
tick_bottom = alt.Chart(xt).mark_rule(color=TICK, strokeWidth=1).encode(
    x=X, y=alt.value(H), y2=alt.value(H - 13))
tick_top = alt.Chart(xt).mark_rule(color=TICK, strokeWidth=1).encode(
    x=X, y=alt.value(0), y2=alt.value(13))
tick_left = alt.Chart(yt).mark_rule(color=TICK, strokeWidth=1).encode(
    y=alt.Y("v:Q", scale=ys, axis=y_axis), x=alt.value(0), x2=alt.value(13))
tick_right = alt.Chart(yt).mark_rule(color=TICK, strokeWidth=1).encode(
    y=alt.Y("v:Q", scale=ys, axis=y_axis), x=alt.value(W), x2=alt.value(W - 13))

def label(text, x, y, size, weight="bold", angle=0, align="center", font=FONT):
    props = dict(text=text, font=font, fontSize=size, fontWeight=weight,
                 align=align, baseline="alphabetic", color="black")
    if angle:
        props["angle"] = angle
    return alt.Chart(pd.DataFrame({"k": [0]})).mark_text(**props).encode(
        x=alt.value(x), y=alt.value(y))

x_title = label("Number of offices", W / 2, 768, 49)
y_title1 = label("Lighting electricity use intensity", -152, H / 2, 49, angle=270)
y_title2 = label("[kWh/m²]", -86, H / 2, 49, angle=270)
source = label("(Gilani et al., 2018)", 1473, 776, 48, weight="normal",
               align="right", font="Lato")

chart = alt.layer(
    whiskers, box_marks, outlier_marks, median_ring, median_dot,
    tick_bottom, tick_top, tick_left, tick_right,
    x_title, y_title1, y_title2, source,
).properties(
    width=W, height=H,
    autosize=alt.AutoSizeParams(type="none"),
    padding={"left": 214, "top": 69, "right": 160, "bottom": 141},
).configure_view(
    stroke="#555555", strokeWidth=1.5
).configure(background="white")

chart.save("out.html", embed_options={"renderer": "svg", "actions": False})
